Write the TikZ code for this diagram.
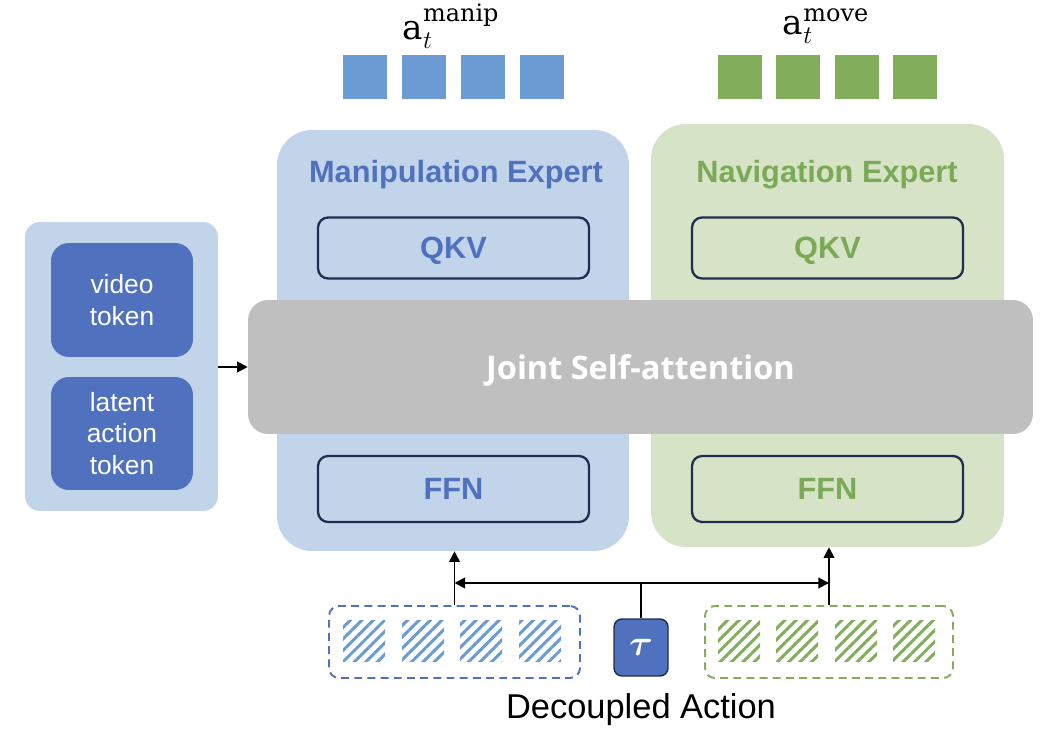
\documentclass[tikz,border=0pt]{standalone}
\usepackage{amsmath}
\usepackage[no-math]{fontspec}
\setmainfont{Liberation Sans}
\newfontfamily\jointfont{Open Sans}
\newfontfamily\labelfont{DejaVu Serif}
\usetikzlibrary{positioning,arrows.meta,patterns.meta}

\definecolor{panelblue}{RGB}{194,212,234}
\definecolor{panelgreen}{RGB}{214,227,199}
\definecolor{tokenblue}{RGB}{79,113,190}
\definecolor{actblue}{RGB}{106,155,210}
\definecolor{actgreen}{RGB}{130,173,90}
\definecolor{textgreen}{RGB}{122,170,86}
\definecolor{navy}{RGB}{31,45,80}
\definecolor{attngray}{RGB}{191,191,191}

\newcommand{\actlabel}[1]{$\text{\labelfont a}_{t}^{\text{\labelfont #1}}$}

\tikzset{
  panel/.style={rounded corners=0.7cm,inner sep=0pt},
  token/.style={fill=tokenblue,rounded corners=0.36cm,text=white,align=center,
    font=\fontsize{15}{18}\selectfont,inner sep=0pt},
  title/.style={font=\fontsize{17.5}{20}\selectfont\bfseries,text depth=0pt},
  layerbox/.style={draw=navy,line width=1.3pt,rounded corners=0.2cm,text depth=0pt,
    minimum width=5.42cm,inner sep=0pt,font=\fontsize{17.5}{20}\selectfont\bfseries},
  actsq/.style={minimum size=0.88cm,inner sep=0pt},
  noisysq/.style={minimum size=0.84cm,inner sep=0pt,
    pattern={Lines[angle=45,distance=4.6pt,line width=1.7pt]}},
  noisebox/.style={dashed,dash pattern=on 4.5pt off 3pt,line width=1.1pt,
    rounded corners=0.2cm,minimum height=1.44cm,inner sep=0pt},
  link/.style={line width=1.1pt,-{Triangle[length=6pt,width=6pt]}}
}

\begin{document}
\begin{tikzpicture}[x=0.02cm,y=-0.02cm]
  \useasboundingbox (0,0) rectangle (1050,742);

  % input tokens
  \node[panel,fill=panelblue,rounded corners=0.3cm,minimum width=3.86cm,minimum height=5.78cm] (inputs) at (121.5,366.5){};
  \node[token,minimum width=2.84cm,minimum height=2.28cm] (video) at (122,300){video\\token};
  \node[token,minimum width=2.84cm,minimum height=2.26cm] (latent) at (122,433.5){latent\\action\\token};

  % experts
  \node[panel,fill=panelblue,minimum width=7.04cm,minimum height=8.42cm] (manip) at (453,340.5){};
  \node[panel,fill=panelgreen,minimum width=7.06cm,minimum height=8.46cm] (nav) at (827.5,335.5){};
  \node[title,text=tokenblue] (manipTitle) at (456,171){Manipulation Expert};
  \node[title,text=textgreen] (navTitle) at (827,171){Navigation Expert};
  \node[layerbox,minimum height=1.22cm,text=tokenblue] (qkvM) at (453.5,248){QKV};
  \node[layerbox,minimum height=1.22cm,text=textgreen] (qkvN) at (827.5,248){QKV};
  \node[layerbox,minimum height=1.32cm,text=tokenblue] (ffnM) at (453.5,489){FFN};
  \node[layerbox,minimum height=1.32cm,text=textgreen] (ffnN) at (827.5,489){FFN};

  % shared attention
  \node[fill=attngray,rounded corners=0.4cm,minimum width=15.7cm,minimum height=2.68cm,inner sep=0pt,text depth=0pt,
    text=white,font=\jointfont\fontsize{18.5}{20}\selectfont\bfseries] (attn) at (640.5,367){Joint Self-attention};
  \draw[link] (inputs.east|-attn.west) -- (attn.west);

  % output actions
  \foreach \i/\x in {1/365,2/424,3/483,4/542}
    \node[actsq,fill=actblue] (am\i) at (\x,77){};
  \foreach \i/\x in {1/739.5,2/798,3/857,4/915}
    \node[actsq,fill=actgreen] (an\i) at (\x,77){};
  \node[font=\fontsize{19.5}{22}\selectfont] (amLabel) at (451,26){\actlabel{manip}};
  \node[font=\fontsize{19.5}{22}\selectfont] (anLabel) at (826,26){\actlabel{move}};

  % noisy actions
  \node[noisebox,draw=tokenblue,minimum width=5.02cm] (noiseM) at (454.5,642){};
  \node[noisebox,draw=actgreen,minimum width=4.96cm] (noiseN) at (829,642){};
  \foreach \i/\x in {1/364,2/423,3/481,4/540}
    \node[noisysq,pattern color=actblue] (hm\i) at (\x,641){};
  \foreach \i/\x in {1/739,2/797,3/856,4/914}
    \node[noisysq,pattern color=actgreen] (hn\i) at (\x,641){};
  \node[fill=tokenblue,draw=navy,line width=0.8pt,rounded corners=0.16cm,minimum width=1.08cm,minimum height=1.14cm,
    inner sep=0pt,text=white,font=\fontsize{20}{22}\selectfont] (tau) at (641,647.5){$\boldsymbol{\tau}$};
  \node[font=\fontsize{19.6}{22}\selectfont] (caption) at (641,710){Decoupled Action};

  % timestep routing
  \coordinate (split) at (641,583);
  \draw[link] (noiseM.north) -- (noiseM.north|-manip.south);
  \draw[link] (noiseN.north) -- (noiseN.north|-nav.south);
  \draw[line width=1.1pt,{Triangle[length=6pt,width=6pt]}-{Triangle[length=6pt,width=6pt]}]
    (split-|noiseM.north) -- (split-|noiseN.north);
  \draw[line width=1.1pt] (tau.north) -- (split);
\end{tikzpicture}
\end{document}
